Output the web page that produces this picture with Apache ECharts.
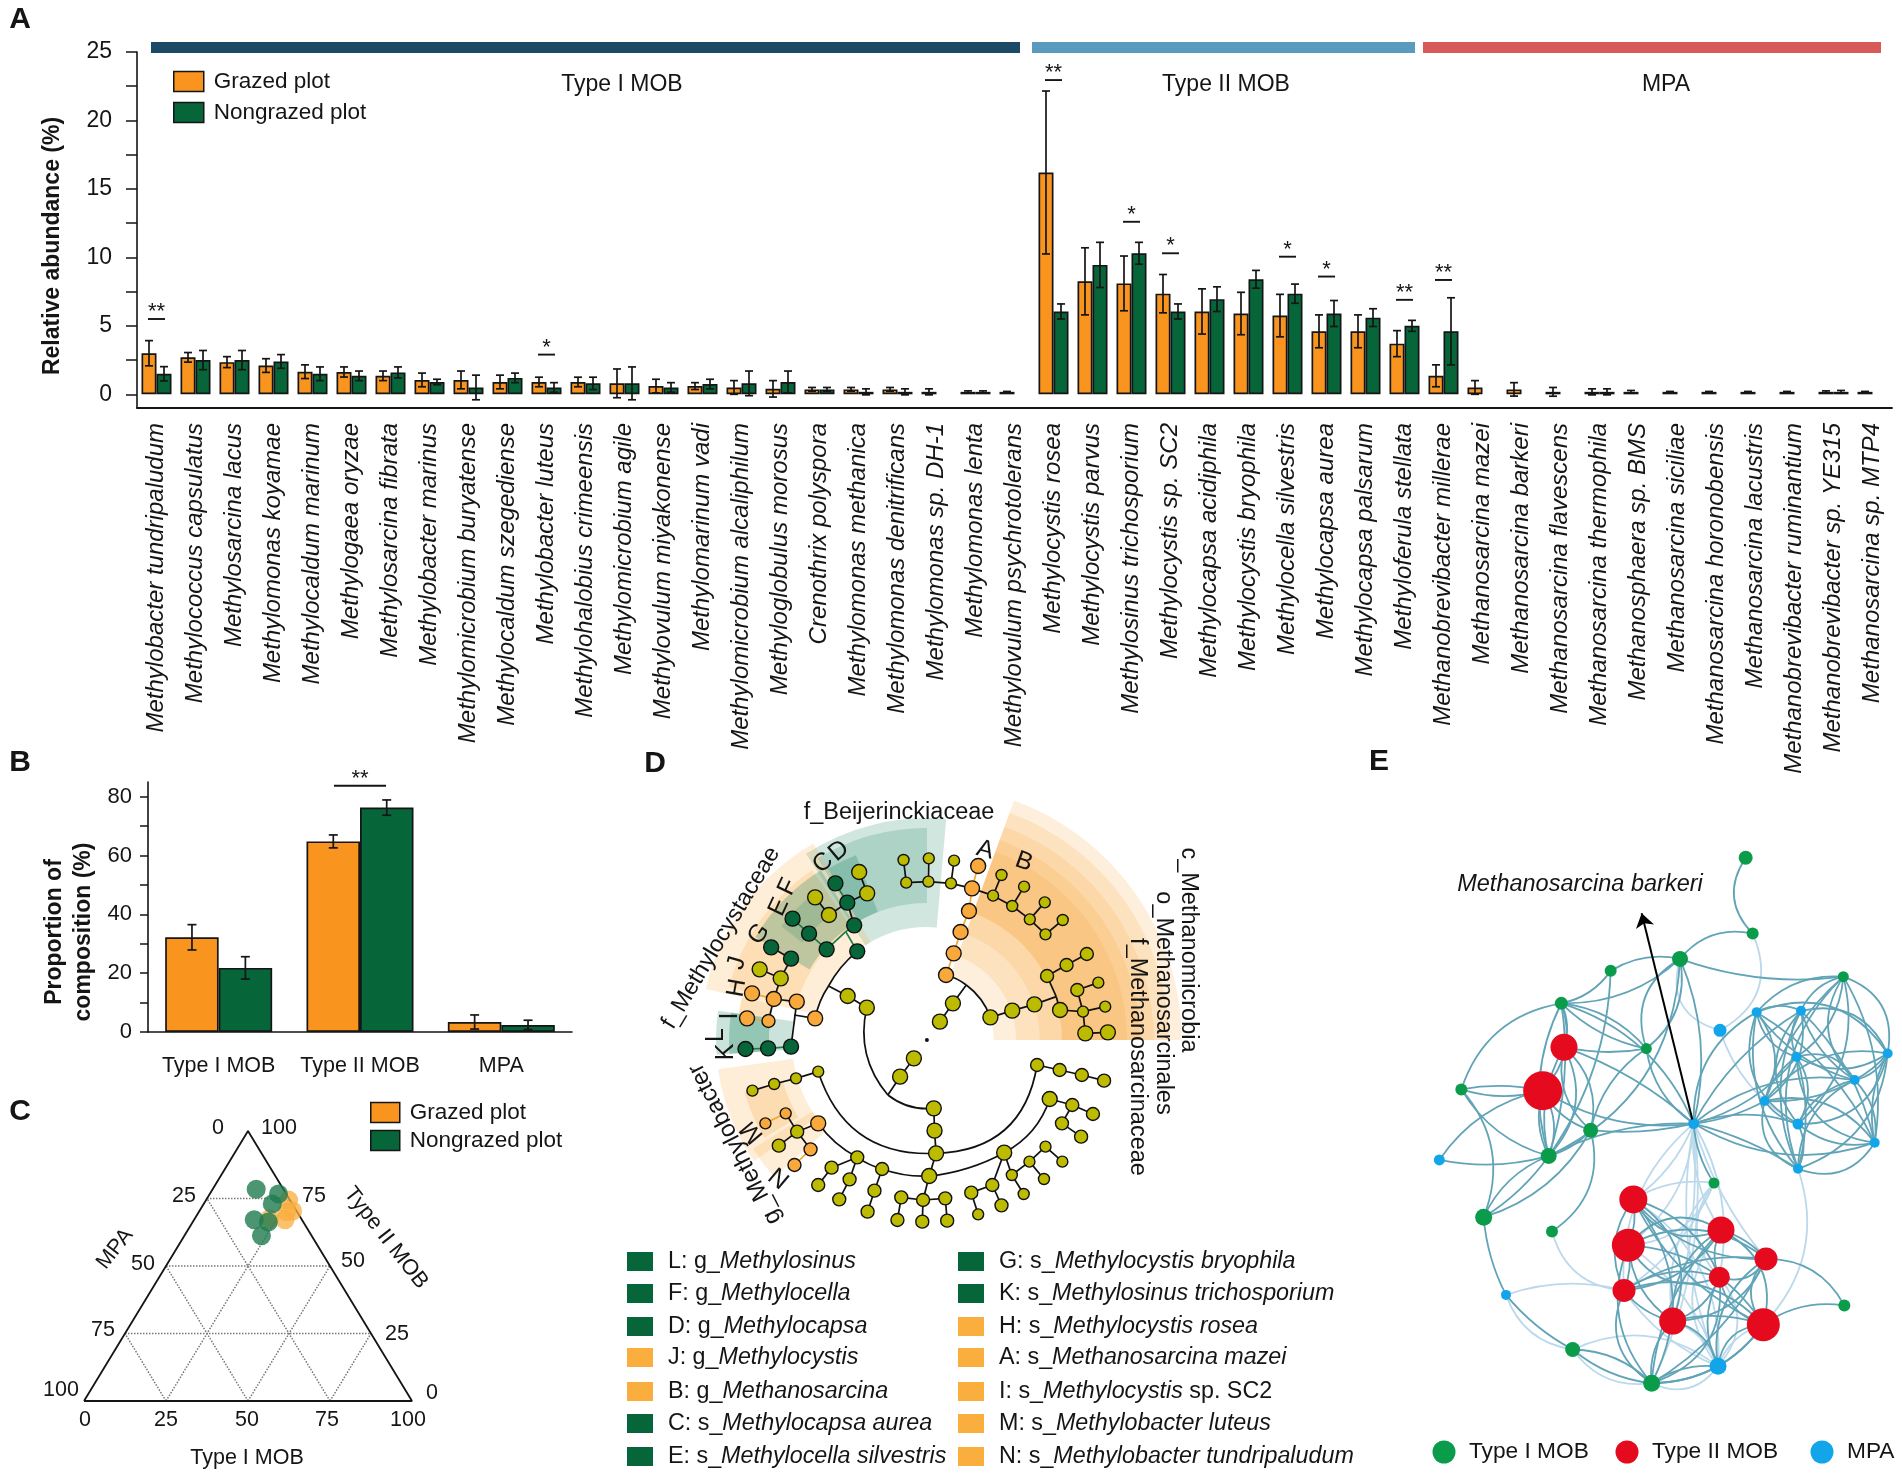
<!DOCTYPE html>
<html><head><meta charset="utf-8">
<script src="https://cdn.jsdelivr.net/npm/echarts@6/dist/echarts.min.js"></script>
<style>html,body{margin:0;padding:0;background:#fff}#c{width:1902px;height:1476px}</style>
</head><body><div id="c"></div>
<script>
const FONT='"Liberation Sans",Arial,sans-serif';
const ORANGE='#f9951f',GREEN='#07653a',INK='#151515';
const seriesNames=['Grazed plot','Nongrazed plot'];

// Panel A
const speciesA=['Methylobacter tundripaludum','Methylococcus capsulatus','Methylosarcina lacus','Methylomonas koyamae','Methylocaldum marinum','Methylogaea oryzae','Methylosarcina fibrata','Methylobacter marinus','Methylomicrobium buryatense','Methylocaldum szegediense','Methylobacter luteus','Methylohalobius crimeensis','Methylomicrobium agile','Methylovulum miyakonense','Methylomarinum vadi','Methylomicrobium alcaliphilum','Methyloglobulus morosus','Crenothrix polyspora','Methylomonas methanica','Methylomonas denitrificans','Methylomonas sp. DH-1','Methylomonas lenta','Methylovulum psychrotolerans','Methylocystis rosea','Methylocystis parvus','Methylosinus trichosporium','Methylocystis sp. SC2','Methylocapsa acidiphila','Methylocystis bryophila','Methylocella silvestris','Methylocapsa aurea','Methylocapsa palsarum','Methyloferula stellata','Methanobrevibacter millerae','Methanosarcina mazei','Methanosarcina barkeri','Methanosarcina flavescens','Methanosarcina thermophila','Methanosphaera sp. BMS','Methanosarcina siciliae','Methanosarcina horonobensis','Methanosarcina lacustris','Methanobrevibacter ruminantium','Methanobrevibacter sp. YE315','Methanosarcina sp. MTP4'];
const grazedA=[3.0,2.7,2.35,2.1,1.65,1.63,1.35,1.05,1.05,.9,.9,.9,.8,.6,.6,.5,.4,.36,.36,.36,.18,.18,.18,16.2,8.25,8.1,7.35,6.05,5.9,5.75,4.6,4.6,3.7,1.35,.5,.36,.18,.18,.18,.18,.18,.18,.18,.18,.18];
const grazedErrA=[.92,.35,.4,.5,.5,.37,.35,.5,.65,.5,.35,.35,1.05,.5,.25,.5,.6,.14,.14,.14,.22,.07,.03,5.95,2.45,2.0,1.4,1.65,1.55,1.55,1.2,1.2,.95,.8,.5,.49,.32,.22,.1,.03,.03,.03,.03,.07,.03];
const nongrazedA=[1.5,2.5,2.5,2.4,1.5,1.35,1.6,.9,.5,1.2,.5,.8,.8,.5,.75,.8,.9,.36,.18,.18,null,.18,null,6.05,9.45,10.3,6.05,6.95,8.4,7.35,5.9,5.6,5.0,4.6,null,null,null,.18,null,null,null,null,null,.18,null];
const nongrazedErrA=[.52,.7,.7,.5,.5,.35,.4,.2,.9,.35,.35,.45,1.2,.35,.35,.9,.8,.14,.22,.22,null,.07,null,.55,1.65,.8,.55,.9,.65,.7,.95,.65,.4,2.45,null,null,null,.22,null,null,null,null,null,.1,null];
const sigIndexA=[0,10,23,25,26,29,30,32,33];
const sigLevelA=[5.5,2.9,22.95,12.6,10.3,10.05,8.6,6.9,8.35];
const sigTextA=['**','*','**','*','*','*','*','**','**'];

// Panel B
const groupsB=['Type I MOB','Type II MOB','MPA'];
const grazedB=[32.2,64.8,3.4];
const grazedErrB=[4.3,2.2,2.4];
const nongrazedB=[21.8,76.3,2.4];
const nongrazedErrB=[3.8,2.6,1.6];

// Panel C: Type I MOB %, Type II MOB %
const grazedTypeI=[25.2,28.4,27.75,22.85,26.75];
const grazedTypeII=[74.4,70.4,67.1,67.5,70.1];
const nongrazedTypeI=[13.3,20.95,20.9,18.35,23.05,23.5];
const nongrazedTypeII=[78.4,76.7,73.0,67.1,66.3,61.2];
const ternTicks=[25,50,75];

// Panel D cladogram: x, y (axis units), size class (0 dot,1 small,2 mid,3 large, -1 junction), kind (0 olive,1 orange,2 green)
const cladeNodes=[[802,900,0,0],[852,705,3,1],[872,640,3,1],[890,576,3,1],[912,513,3,1],[920,445,3,1],[936,378,3,1],[870,790,3,0],[836,845,3,0],[968,832,3,0],[1025,812,3,0],[1083,793,3,0],[1116,708,2,0],[1167,675,2,0],[1220,642,2,0],[1150,810,3,0],[1210,815,1,0],[1268,800,1,0],[1195,750,2,0],[1250,728,1,0],[1216,880,3,0],[1275,877,3,0],[975,467,1,0],[997,405,1,0],[1025,498,1,0],[1056,440,1,0],[1071,538,1,0],[1110,487,1,0],[1112,583,1,0],[1157,540,1,0],[865,430,1,0],[873,362,1,0],[806,425,1,0],[807,355,1,0],[748,428,1,0],[741,360,1,0],[510,835,3,1],[462,785,3,1],[402,777,3,1],[345,760,3,1],[388,843,2,1],[332,835,3,1],[420,715,3,0],[365,688,3,0],[447,656,3,2],[395,622,3,2],[447,920,3,2],[387,925,3,2],[328,927,3,2],[620,634,3,2],[612,556,3,2],[540,628,3,2],[494,581,3,2],[451,536,3,2],[594,488,3,2],[563,430,3,2],[646,460,3,0],[625,396,3,0],[546,525,3,0],[510,472,3,0],[595,768,3,0],[645,803,3,0],[820,1105,3,0],[822,1172,3,0],[826,1240,3,0],[808,1308,3,0],[732,1010,3,0],[768,955,3,0],[1090,975,2,0],[1149,990,2,0],[1207,1005,2,0],[1265,1022,2,0],[1123,1077,3,0],[1182,1095,2,0],[1236,1122,2,0],[1155,1150,2,0],[1205,1190,2,0],[1004,1238,3,0],[973,1335,2,0],[918,1358,2,0],[936,1423,1,0],[997,1396,2,0],[1024,1305,1,0],[1070,1265,1,0],[1112,1220,1,0],[1156,1265,1,0],[1108,1317,1,0],[1055,1362,1,0],[792,1380,2,0],[735,1372,2,0],[725,1440,2,0],[850,1375,2,0],[855,1442,2,0],[790,1445,2,0],[685,1287,2,0],[665,1352,2,0],[647,1415,2,0],[620,1252,2,0],[553,1283,2,0],[518,1335,2,0],[600,1318,2,0],[573,1378,2,0],[518,1150,3,1],[463,1175,2,0],[433,1120,1,1],[380,1150,1,1],[415,1217,2,0],[498,1228,2,1],[456,1275,2,1],[518,995,1,0],[460,1015,1,0],[403,1032,1,0],[346,1052,1,0],[905,735,-1,0],[545,738,-1,0],[700,1065,-1,0],[455,825,-1,0],[590,575,-1,2],[1140,770,-1,0]];
// source, target, curveness, kind
const cladeLinks=[[1,113,.1,0],[113,9,.15,0],[113,7,0,0],[7,8,0,0],[49,114,-.1,0],[114,36,-.1,0],[114,60,0,0],[60,61,0,0],[61,115,-.25,0],[115,62,-.2,0],[115,66,0,0],[66,67,0,0],[62,63,0,0],[63,64,0,0],[64,65,0,0],[64,68,-.41,0],[64,109,.38,0],[65,77,-.1,0],[77,72,-.2,0],[65,94,.1,0],[94,97,.08,0],[97,102,.12,0],[65,88,0,0],[88,89,0,0],[89,90,0,0],[88,91,0,0],[91,92,0,0],[88,93,0,0],[94,95,0,0],[95,96,0,0],[97,98,0,0],[98,99,0,0],[97,100,0,0],[100,101,0,0],[102,103,0,0],[103,104,0,0],[104,105,0,1],[103,106,0,0],[103,107,0,0],[107,108,0,1],[109,110,0,0],[110,111,0,0],[111,112,0,0],[68,69,0,0],[69,70,0,0],[70,71,0,0],[72,73,0,0],[73,74,0,0],[73,75,0,0],[75,76,0,0],[77,78,0,0],[78,79,0,0],[79,80,0,0],[78,81,0,0],[77,82,0,0],[82,83,0,0],[83,84,0,0],[84,85,0,0],[83,86,0,0],[82,87,0,0],[1,2,0,1],[2,3,0,1],[3,4,0,1],[4,5,0,1],[5,6,0,1],[5,22,0,0],[22,23,0,0],[22,24,0,0],[24,25,0,0],[24,26,0,0],[26,27,0,0],[26,28,0,0],[28,29,0,0],[5,30,0,0],[30,31,0,0],[30,32,0,0],[32,33,0,0],[32,34,0,0],[34,35,0,0],[9,10,0,0],[10,11,0,0],[11,118,0,0],[118,12,0,0],[118,15,0,0],[12,13,0,0],[13,14,0,0],[15,16,0,0],[16,17,0,0],[16,18,0,0],[18,19,0,0],[16,20,0,0],[20,21,0,0],[36,116,0,0],[37,46,0,0],[37,38,0,0],[38,39,0,1],[38,40,0,0],[40,41,0,1],[38,42,0,0],[42,43,0,0],[42,44,0,0],[44,45,0,0],[46,47,0,2],[47,48,0,2],[49,117,0,2],[117,50,0,2],[117,51,0,2],[50,54,0,0],[54,55,0,2],[54,56,0,0],[56,57,0,0],[54,58,0,0],[58,59,0,0],[51,52,0,2],[52,53,0,2]];
// Shaded sectors: inner, outer, from angle, to angle, kind (1 orange, 2 green), opacity
const cladeSectors=[[175,666,0,70,1,.18],[233,632,0,70,1,.18],[295,593,0,70,1,.18],[353,556,0,70,1,.18],[353,523,0,70,1,.18],
 [295,580,85,123,2,.22],[358,554,90,121,2,.22],[358,517,111,120,2,.3],
 [295,593,120,167,1,.2],[353,536,124,165,1,.22],[358,523,122,149,2,.3],[413,483,128,142,2,.22],
 [353,551,172,184,2,.25],[413,517,172,184,2,.35],[413,496,167,172,1,.35],
 [353,551,188,215,1,.2],[392,496,196,211,1,.25],[353,536,212,222,1,.2]];
const cladeCenter=[802,900];
const cladeLegendL=[['L: g_','Methylosinus',2],['F: g_','Methylocella',2],['D: g_','Methylocapsa',2],['J: g_','Methylocystis',1],['B: g_','Methanosarcina',1],['C: s_','Methylocapsa aurea',2],['E: s_','Methylocella silvestris',2]];
const cladeLegendR=[['G: s_','Methylocystis bryophila',2],['K: s_','Methylosinus trichosporium',2],['H: s_','Methylocystis rosea',1],['A: s_','Methanosarcina mazei',1],['I: s_','Methylocystis',1,' sp. SC2'],['M: s_','Methylobacter luteus',1],['N: s_','Methylobacter tundripaludum',1]];

// Panel E network: id, x, y, kind (0 Type I, 1 Type II, 2 MPA), weight
const netNodes=[['g0',1037,175,0,14],['g1',1058,346,0,12],['g2',840,403,0,16],['g3',632,430,0,12],['g4',1330,443,0,11],['g5',484,503,0,13],['g6',739,605,0,11],['g7',184,697,0,12],['g8',572,789,0,15],['g9',446,847,0,16],['g10',942,908,0,11],['g11',251,985,0,17],['g12',456,1017,0,12],['g13',1333,1184,0,12],['g14',518,1283,0,15],['g15',755,1359,0,17],
['b0',960,564,2,13],['b1',1070,523,2,10],['b2',1203,520,2,10],['b3',1190,624,2,10],['b4',1463,616,2,10],['b5',1364,676,2,10],['b6',1094,723,2,10],['b7',1194,775,2,11],['b8',1424,817,2,10],['b9',1194,876,2,10],['b10',118,856,2,11],['b11',881,774,2,11],['b12',318,1160,2,10],['b13',954,1321,2,17],
['r0',492,602,1,27],['r1',428,700,1,39],['r2',700,945,1,28],['r3',963,1014,1,27],['r4',685,1048,1,33],['r5',1098,1079,1,23],['r6',958,1120,1,21],['r7',672,1150,1,23],['r8',818,1219,1,27],['r9',1090,1227,1,33]];
const cliqueRight=['b1','b2','b3','b4','b5','b6','b7','b8','b9','g4'];
const cliqueBottom=['r2','r3','r4','r5','r6','r7','r8','r9','g15'];
const hubTeal=['g2','g6','r0','r1','g5','g8','g9','b2','b3','b5','b6','b7','b8','b9','g10'];
const hubLight=['r2','r3','r4','r5','r6','r7','r8','b13','g15'];
const lightToB13=['r2','r3','r4','r5','r6','r7','r8','r9','g14','g15'];
const lightToG10=['r2','r4','r6','r7','r8'];
const tealToB13=['r6','r8','r9','g15','r5'];
const tealLeft=[['g5','r0',.2],['g5','r1',.3],['g5','g9',-.2],['g5','g9',.12],['g3','g5',.2],['g3','g9',.15],['g2','g5',.2],['g2','g3',-.2],['g2','g9',.3],['g2','g6',-.4],['g2','g6',.3],['g6','g8',-.2],['g6','r0',.1],['g6','g5',-.2],['g6','g5',.15],['g8','r1',.2],['g8','r0',.3],['g8','r0',-.3],['g9','r1',.2],['g9','r1',-.25],['g9','r0',.2],['g9','r0',-.35],['g8','g9',.15],['g7','r1',.1],['g7','r1',-.15],['g7','g9',-.2],['g7','g5',.3],['g11','g7',-.3],['g11','g9',.2],['g11','g9',-.1],['g11','g8',-.2],['b10','r1',.2],['b10','g9',-.12],['g12','g8',-.35]];
const tealSingles=[['g0','g1',-.4],['g1','g2',-.3],['g2','g4',-.12],['b11','b1',.3],['g11','b12',-.1],['b12','g14',-.1],['g14','g15',.2],['g14','g15',-.15],['r5','g13',.3],['r9','g13',.2],['g15','r9',-.25],['b4','b5',.1]];
const lightSingles=[['b0','g2',.5],['b0','g1',-.45],['b0','b7',-.2],['b9','r9',.3],['g12','r7',-.35],['b12','r7',.15],['b12','g14',-.3],['g14','g15',-.3]];

const curveCycle=[.25,-.3,.4,-.18,.32,-.42,.15,-.24];
const netColors=['#0a9c4a','#e60a1e','#12a5ea'];
const cladeFill=['#bdbb00','#f9a93c','#07653a'];
const cladeLineColor=['#111','#f2a632','#1c7a45'];
const cladeSizes={'-1':0,0:4,1:11,2:13,3:15};

// ---- helpers ----
function T(x,y,text,o){o=o||{};const f=(o.italic?'italic ':'')+(o.bold?'bold ':'')+(o.size||21)+'px '+FONT;
 return {type:'text',x:x,y:y,rotation:(o.rot||0)*Math.PI/180,z:50,silent:true,
  style:{text:text,font:f,fill:o.fill||INK,align:o.align||'center',verticalAlign:'middle',textAlign:o.align||'center',textVerticalAlign:'middle'}};}
function R(x,y,w,h,c,s){return {type:'rect',x:x,y:y,shape:{width:w,height:h},z:50,silent:true,style:Object.assign({fill:c},s||{})};}
function tern(i,ii){return [i+ii/2,ii];}

function errSeries(xi,yi,vals,errs,off,cap){
 return {type:'custom',xAxisIndex:xi,yAxisIndex:yi,z:5,silent:true,clip:false,
  data:vals.map((v,i)=>v==null?null:[i,v,errs[i]]).filter(Boolean),
  encode:{x:0,y:1},
  renderItem:function(p,api){const c=api.value(0),v=api.value(1),e=api.value(2);
   const t=api.coord([c,v+e]),b=api.coord([c,v-e]);const x=t[0]+off;
   const st={stroke:INK,lineWidth:1.7,fill:null};
   return {type:'group',children:[
    {type:'line',shape:{x1:x,y1:t[1],x2:x,y2:b[1]},style:st},
    {type:'line',shape:{x1:x-cap,y1:t[1],x2:x+cap,y2:t[1]},style:st},
    {type:'line',shape:{x1:x-cap,y1:b[1],x2:x+cap,y2:b[1]},style:st}]};}};
}
function sigSeries(xi,yi,idx,lev,txt,half,fs){
 return {type:'custom',xAxisIndex:xi,yAxisIndex:yi,z:6,silent:true,clip:false,
  data:idx.map((c,i)=>[c,lev[i]]),encode:{x:0,y:1},
  renderItem:function(p,api){const q=api.coord([api.value(0),api.value(1)]);
   return {type:'group',children:[
    {type:'line',shape:{x1:q[0]-half,y1:q[1],x2:q[0]+half,y2:q[1]},style:{stroke:INK,lineWidth:1.9}},
    {type:'text',style:{x:q[0],y:q[1]+4,text:txt[p.dataIndex],font:fs+'px '+FONT,fill:INK,align:'center',verticalAlign:'bottom',textAlign:'center',textVerticalAlign:'bottom'}}]};}};
}
const barStyle=c=>({color:c,borderColor:INK,borderWidth:1.7});

// grids
const grid=[
 {left:137,top:52,width:1755,height:356},
 {left:148,top:782,width:424,height:250},
 {left:84,top:1131,width:328,height:270},
 {left:620,top:740,width:600,height:500},
 {left:1400,top:780,width:502,height:696}];
const hiddenV=(g,max,inv)=>({type:'value',gridIndex:g,min:0,max:max,show:false,inverse:!!inv});

const xAxis=[
 {type:'category',gridIndex:0,data:speciesA,position:'bottom',axisLine:{onZero:false,lineStyle:{color:INK,width:1.8}},
  axisTick:{alignWithLabel:true,length:10,lineStyle:{color:INK,width:1.5}},
  axisLabel:{interval:0,rotate:90,fontStyle:'italic',fontFamily:FONT,fontSize:24,color:INK,margin:15}},
 {type:'category',gridIndex:1,data:groupsB,position:'bottom',axisLine:{lineStyle:{color:INK,width:1.6}},
  axisTick:{alignWithLabel:false,length:6,lineStyle:{color:INK,width:1.5}},
  axisLabel:{interval:0,fontFamily:FONT,fontSize:21.5,color:INK,margin:23}},
 {type:'category',gridIndex:1,data:groupsB,position:'bottom',axisLine:{show:false},
  axisTick:{alignWithLabel:true,length:12,lineStyle:{color:INK,width:1.5}},axisLabel:{show:false}},
 hiddenV(2,100),hiddenV(3,1568),hiddenV(4,1506)];
const yAxis=[
 {type:'value',gridIndex:0,min:-1,max:25,position:'left',splitLine:{show:false},
  axisLine:{show:true,onZero:false,lineStyle:{color:INK,width:1.6}},
  axisTick:{show:true,length:11,customValues:[0,2.5,5,7.5,10,12.5,15,17.5,20,22.5,25],lineStyle:{color:INK,width:1.5}},
  axisLabel:{customValues:[0,5,10,15,20,25],fontFamily:FONT,fontSize:23,color:INK,margin:25,padding:[5,0,0,0]}},
 {type:'value',gridIndex:1,min:0,max:85,splitLine:{show:false},
  axisLine:{show:true,lineStyle:{color:INK,width:1.6}},
  axisTick:{show:true,length:8,customValues:[0,10,20,30,40,50,60,70,80],lineStyle:{color:INK,width:1.5}},
  axisLabel:{customValues:[0,20,40,60,80],fontFamily:FONT,fontSize:22,color:INK,margin:16,padding:[5,0,0,0]}},
 hiddenV(2,100),hiddenV(3,1500,true),hiddenV(4,1568,true)];

const series=[];
// A
series.push({name:seriesNames[0],type:'bar',xAxisIndex:0,yAxisIndex:0,data:grazedA,barWidth:15,barGap:'0%',itemStyle:barStyle(ORANGE)});
series.push({name:seriesNames[1],type:'bar',xAxisIndex:0,yAxisIndex:0,data:nongrazedA,barWidth:15,barGap:'0%',itemStyle:barStyle(GREEN)});
series.push(errSeries(0,0,grazedA,grazedErrA,-7.5,4));
series.push(errSeries(0,0,nongrazedA,nongrazedErrA,7.5,4));
series.push(sigSeries(0,0,sigIndexA,sigLevelA,sigTextA,8.5,22));
// B
series.push({name:seriesNames[0],type:'bar',xAxisIndex:1,yAxisIndex:1,data:grazedB,barWidth:53.5,barGap:'0%',itemStyle:barStyle(ORANGE)});
series.push({name:seriesNames[1],type:'bar',xAxisIndex:1,yAxisIndex:1,data:nongrazedB,barWidth:53.5,barGap:'0%',itemStyle:barStyle(GREEN)});
series.push(errSeries(1,1,grazedB,grazedErrB,-26.7,4.5));
series.push(errSeries(1,1,nongrazedB,nongrazedErrB,26.7,4.5));
series.push(sigSeries(1,1,[1],[83.7],['**'],26,22));
// C
ternTicks.forEach(t=>{
 [[tern(0,t),tern(100-t,t)],[tern(t,0),tern(t,100-t)],[tern(100-t,0),tern(0,100-t)]].forEach(seg=>{
  series.push({type:'line',xAxisIndex:3,yAxisIndex:2,data:seg,symbol:'none',silent:true,lineStyle:{color:'#777',width:1.5,type:'dotted'},z:1});
 });
});
series.push({type:'line',xAxisIndex:3,yAxisIndex:2,data:[tern(0,0),tern(100,0),tern(0,100),tern(0,0)],symbol:'none',silent:true,clip:false,lineStyle:{color:INK,width:1.8},z:2});
series.push({name:seriesNames[0],type:'scatter',xAxisIndex:3,yAxisIndex:2,symbolSize:19,itemStyle:{color:'#f9ae3d',opacity:.75},z:3,data:grazedTypeI.map((v,i)=>tern(v,grazedTypeII[i]))});
series.push({name:seriesNames[1],type:'scatter',xAxisIndex:3,yAxisIndex:2,symbolSize:19,itemStyle:{color:'#1f7a50',opacity:.8},z:4,data:nongrazedTypeI.map((v,i)=>tern(v,nongrazedTypeII[i]))});
// D sectors
series.push({type:'custom',xAxisIndex:4,yAxisIndex:3,silent:true,z:1,clip:false,data:cladeSectors,
 encode:{x:0,y:1},
 renderItem:function(p,api){const s=cladeSectors[p.dataIndex];const c=api.coord(cladeCenter);const k=api.size([1,1])[0];
  return {type:'sector',shape:{cx:c[0],cy:c[1],r0:s[0]*k,r:s[1]*k,startAngle:-s[3]*Math.PI/180,endAngle:-s[2]*Math.PI/180,clockwise:true},
   style:{fill:s[4]===1?'#f9a93c':'#2f8f6e',opacity:s[5]}};}});
// D tree
series.push({type:'graph',coordinateSystem:'cartesian2d',xAxisIndex:4,yAxisIndex:3,silent:true,z:3,
 data:cladeNodes.map((n,i)=>({name:'n'+i,value:[n[0],n[1]],symbolSize:cladeSizes[n[2]],
  itemStyle:{color:n[2]===0?'#111':cladeFill[n[3]],borderColor:'#111',borderWidth:n[2]===0?0:1.4}})),
 links:cladeLinks.map(l=>({source:l[0],target:l[1],lineStyle:{color:cladeLineColor[l[3]],width:1.7,curveness:l[2],opacity:1}}))});
// E
(function(){
 const id={};netNodes.forEach((n,i)=>id[n[0]]=i);
 const links=[];const add=(a,b,c,col)=>links.push({source:id[a],target:id[b],lineStyle:{color:col,width:1.8,curveness:c,opacity:1}});
 const TEAL='#62a4b7',LIGHT='#bcd9ec';
 lightSingles.forEach(l=>add(l[0],l[1],l[2],LIGHT));
 let k=0;const cc=()=>curveCycle[(k++)%curveCycle.length];
 hubLight.forEach(n=>add('b11',n,cc()*.6,LIGHT));
 lightToB13.forEach(n=>add('b13',n,cc(),LIGHT));
 lightToG10.forEach(n=>add('g10',n,cc(),LIGHT));
 [cliqueRight,cliqueBottom].forEach(g=>{for(let i=0;i<g.length;i++)for(let j=i+1;j<g.length;j++)add(g[i],g[j],cc(),TEAL);});
 hubTeal.forEach(n=>add('b11',n,cc()*.55,TEAL));
 tealToB13.forEach(n=>add('b13',n,cc(),TEAL));
 tealLeft.forEach(l=>add(l[0],l[1],l[2],TEAL));
 tealSingles.forEach(l=>add(l[0],l[1],l[2],TEAL));
 series.push({type:'graph',coordinateSystem:'cartesian2d',xAxisIndex:5,yAxisIndex:4,silent:true,z:3,
  data:netNodes.map(n=>({name:n[0],value:[n[1],n[2]],symbolSize:n[4],itemStyle:{color:netColors[n[3]]}})),links:links});
 series.push({type:'lines',coordinateSystem:'cartesian2d',xAxisIndex:5,yAxisIndex:4,silent:true,z:6,symbol:['none','arrow'],symbolSize:14,
  lineStyle:{color:'#000',width:2,opacity:1},data:[{coords:[[877,765],[725,300]]}]});
})();

// graphic (annotation text, header strips, manual legends)
const g=[];
g.push(T(20,20,'A',{bold:true,size:30}),T(20,763,'B',{bold:true,size:30}),T(20,1112,'C',{bold:true,size:30}),T(655,764,'D',{bold:true,size:30}),T(1379,762,'E',{bold:true,size:30}));
g.push(R(151,42,869,11,'#1a4a66'),R(1032,42,383,11,'#5b9abf'),R(1423,42,458,11,'#d85a58'));
g.push(T(622,85,'Type I MOB',{size:23}),T(1226,85,'Type II MOB',{size:23}),T(1666,85,'MPA',{size:23}));
g.push(T(53,246,'Relative abundance (%)',{bold:true,size:23,rot:90}));
g.push(T(55,932,'Proportion of',{bold:true,size:23,rot:90}),T(84,932,'composition (%)',{bold:true,size:23,rot:90}));
// C labels
[[218,1128,'0'],[279,1128,'100'],[184,1196,'25'],[314,1196,'75'],[143,1264,'50'],[353,1261,'50'],[103,1330,'75'],[397,1334,'25'],[61,1390,'100'],[432,1393,'0'],[85,1420,'0'],[166,1420,'25'],[247,1420,'50'],[327,1420,'75'],[408,1420,'100']].forEach(a=>g.push(T(a[0],a[1],a[2],{size:21.5})));
g.push(T(247,1458,'Type I MOB',{size:21.5}),T(115,1249,'MPA',{rot:52,size:21.5}),T(386,1238,'Type II MOB',{rot:-52,size:22}));
// D labels
g.push(T(899,813,'f_Beijerinckiaceae',{size:23.5}),T(1188,950,'c_Methanomicrobia',{size:23.5,rot:-90}),T(1163,1003,'o_Methanosarcinales',{size:23.5,rot:-90}),T(1137,1057,'f_Methanosarcinaceae',{size:23.5,rot:-90}),T(721,938,'f_Methylocystaceae',{size:23.5,rot:59}),T(735,1144,'g_Methylobacter',{size:24,rot:117}));
[['A',985,850,-15],['B',1024,862,-20],['C',823,863,40],['D',839,851,40],['E',779,907,65],['F',788,887,65],['G',759,934,55],['J',737,963,75],['H',737,988,80],['I',730,1016,90],['L',716,1035,90],['K',726,1052,90],['M',752,1132,130],['N',780,1177,140]].forEach(a=>g.push(T(a[1],a[2],a[0],{size:25,rot:a[3]})));
// D legend
const legendY=[1262,1294,1327,1358,1392,1424,1457];
function legendCol(list,xs,xt){list.forEach((r,i)=>{const c=r[2]===2?'#07653a':'#f9ae3d';
 g.push(R(xs,legendY[i]-10,26,19,c));
 const a={font:'23.3px '+FONT,fill:INK},b={font:'italic 23.3px '+FONT,fill:INK};
 g.push({type:'text',x:xt,y:legendY[i],z:50,silent:true,style:{text:'{a|'+r[0]+'}{b|'+r[1]+'}'+(r[3]?'{a|'+r[3]+'}':''),rich:{a:a,b:b},font:'23.3px '+FONT,align:'left',verticalAlign:'middle',textAlign:'left',textVerticalAlign:'middle'}});
});}
legendCol(cladeLegendL,627,668);legendCol(cladeLegendR,958,999);
// E labels
g.push(T(1580,884,'Methanosarcina barkeri',{italic:true,size:23.5}));
[[1444,1469,'Type I MOB',0],[1627,1652,'Type II MOB',1],[1822,1847,'MPA',2]].forEach(a=>{
 g.push({type:'circle',x:a[0],y:1452,shape:{r:11.5},z:50,silent:true,style:{fill:netColors[a[3]]}});
 g.push(T(a[1],1452,a[2],{size:22.7,align:'left'}));});

const legendBase={orient:'vertical',icon:'rect',selectedMode:false,data:seriesNames,itemStyle:{borderColor:INK,borderWidth:1.5},padding:0};
const chart=echarts.init(document.getElementById('c'),null,{renderer:'canvas'});
chart.setOption({animation:false,backgroundColor:'#fff',grid:grid,xAxis:xAxis,yAxis:yAxis,series:series,graphic:{elements:g},
 legend:[Object.assign({},legendBase,{left:173,top:70,itemWidth:30,itemHeight:20,itemGap:8,textStyle:{fontFamily:FONT,color:INK,fontSize:22.5,padding:[0,0,0,5]}}),
         Object.assign({},legendBase,{left:370,top:1101,itemWidth:29,itemHeight:20,itemGap:5,textStyle:{fontFamily:FONT,color:INK,fontSize:22.5,padding:[0,0,0,5]}})]});
</script></body></html>
